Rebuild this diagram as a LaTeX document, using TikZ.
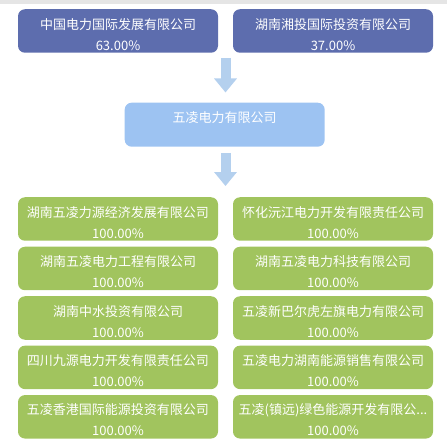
\documentclass[tikz,border=0pt]{standalone}
\usepackage{fontspec}
\setmainfont{Noto Sans CJK SC}
\usepackage{tikz}
\usetikzlibrary{arrows.meta,calc}
\definecolor{ownerblue}{RGB}{93,109,174}
\definecolor{hubblue}{RGB}{157,195,242}
\definecolor{arrowblue}{RGB}{180,208,238}
\definecolor{subgreen}{RGB}{161,196,94}
\definecolor{bargray}{RGB}{229,229,229}

\begin{document}
\begin{tikzpicture}[x=1pt, y=-1pt, font=\fontsize{13}{21}\selectfont,
  corpbox/.style={rounded corners=7pt, minimum width=200pt, minimum height=43.5pt, inner sep=0pt, align=center, text=white, text height=40.9pt, text depth=2.6pt},
  owner/.style={corpbox, fill=ownerblue},
  hub/.style={corpbox, fill=hubblue, text height=20.3pt, text depth=23.7pt},
  subsid/.style={corpbox, fill=subgreen},
  flowarrow/.style={arrowblue, line width=10pt, -{Triangle[width=22pt, length=14pt]}}]

\useasboundingbox (0,0) rectangle (447,446);

% ==========================================
% Top Strip
% ==========================================
\fill[bargray] (0,0) rectangle (447,4);

% ==========================================
% Shareholders
% ==========================================
\node[owner] (cnpi) at (118,31) {中国电力国际发展有限公司\\63.00\%};
\node[owner] (xiangtou) at (333,31) {湖南湘投国际投资有限公司\\37.00\%};

% ==========================================
% Holding Company
% ==========================================
\node[hub] (wuling) at (224.7,124.7) {五凌电力有限公司};

% ==========================================
% Subsidiaries (left column, then right column)
% ==========================================
\node[subsid] (sub1) at (118,219)   {湖南五凌力源经济发展有限公司\\100.00\%};
\node[subsid] (sub2) at (118,268.5) {湖南五凌电力工程有限公司\\100.00\%};
\node[subsid] (sub3) at (118,318)   {湖南中水投资有限公司\\100.00\%};
\node[subsid] (sub4) at (118,367.4) {四川九源电力开发有限责任公司\\100.00\%};
\node[subsid] (sub5) at (118,416.8) {五凌香港国际能源投资有限公司\\100.00\%};

\node[subsid] (sub6)  at (333,219)   {怀化沅江电力开发有限责任公司\\100.00\%};
\node[subsid] (sub7)  at (333,268.5) {湖南五凌电力科技有限公司\\100.00\%};
\node[subsid] (sub8)  at (333,318)   {五凌新巴尔虎左旗电力有限公司\\100.00\%};
\node[subsid] (sub9)  at (333,367.4) {五凌电力湖南能源销售有限公司\\100.00\%};
\node[subsid] (sub10) at (333,416.8) {五凌(镇远)绿色能源开发有限公...\\100.00\%};

% ==========================================
% Flow Arrows
% ==========================================
\coordinate (ownsplit) at ($(cnpi.south east)!0.5!(xiangtou.south west)$);
\coordinate (subsplit) at ($(sub1.north east)!0.5!(sub6.north west)$);
\draw[flowarrow] ([yshift=-5pt]ownsplit) -- ([yshift=10pt]wuling.north -| ownsplit);
\draw[flowarrow] ([yshift=-6pt]wuling.south -| subsplit) -- ([yshift=11pt]subsplit);

\end{tikzpicture}
\end{document}
